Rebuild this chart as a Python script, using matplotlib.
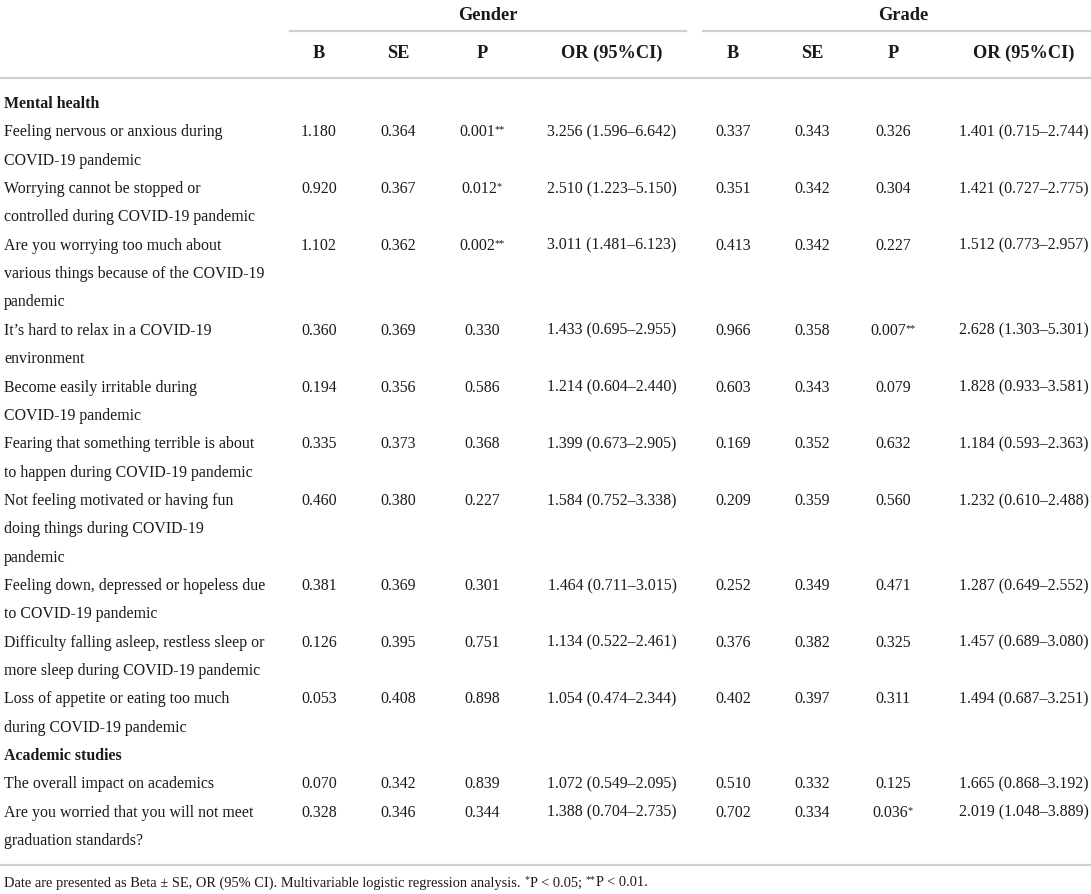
import matplotlib
matplotlib.use("Agg")
import matplotlib.pyplot as plt

plt.rcParams['font.family'] = ['Liberation Serif', 'DejaVu Serif']

groups = ["Gender", "Grade"]
col_heads = ["B", "SE", "P", "OR (95%CI)"]

sections = ["Mental health", "Academic studies"]

labels = [
    "Feeling nervous or anxious during\nCOVID-19 pandemic",
    "Worrying cannot be stopped or\ncontrolled during COVID-19 pandemic",
    "Are you worrying too much about\nvarious things because of the COVID-19\npandemic",
    "It\u2019s hard to relax in a COVID-19\nenvironment",
    "Become easily irritable during\nCOVID-19 pandemic",
    "Fearing that something terrible is about\nto happen during COVID-19 pandemic",
    "Not feeling motivated or having fun\ndoing things during COVID-19\npandemic",
    "Feeling down, depressed or hopeless due\nto COVID-19 pandemic",
    "Difficulty falling asleep, restless sleep or\nmore sleep during COVID-19 pandemic",
    "Loss of appetite or eating too much\nduring COVID-19 pandemic",
    "The overall impact on academics",
    "Are you worried that you will not meet\ngraduation standards?",
]
section_of = [0] * 10 + [1] * 2

gender_b = ["1.180", "0.920", "1.102", "0.360", "0.194", "0.335", "0.460", "0.381", "0.126", "0.053", "0.070", "0.328"]
gender_se = ["0.364", "0.367", "0.362", "0.369", "0.356", "0.373", "0.380", "0.369", "0.395", "0.408", "0.342", "0.346"]
gender_p = ["0.001", "0.012", "0.002", "0.330", "0.586", "0.368", "0.227", "0.301", "0.751", "0.898", "0.839", "0.344"]
gender_p_star = ["**", "*", "**", "", "", "", "", "", "", "", "", ""]
gender_or = ["3.256 (1.596\u20136.642)", "2.510 (1.223\u20135.150)", "3.011 (1.481\u20136.123)",
             "1.433 (0.695\u20132.955)", "1.214 (0.604\u20132.440)", "1.399 (0.673\u20132.905)",
             "1.584 (0.752\u20133.338)", "1.464 (0.711\u20133.015)", "1.134 (0.522\u20132.461)",
             "1.054 (0.474\u20132.344)", "1.072 (0.549\u20132.095)", "1.388 (0.704\u20132.735)"]

grade_b = ["0.337", "0.351", "0.413", "0.966", "0.603", "0.169", "0.209", "0.252", "0.376", "0.402", "0.510", "0.702"]
grade_se = ["0.343", "0.342", "0.342", "0.358", "0.343", "0.352", "0.359", "0.349", "0.382", "0.397", "0.332", "0.334"]
grade_p = ["0.326", "0.304", "0.227", "0.007", "0.079", "0.632", "0.560", "0.471", "0.325", "0.311", "0.125", "0.036"]
grade_p_star = ["", "", "", "**", "", "", "", "", "", "", "", "*"]
grade_or = ["1.401 (0.715\u20132.744)", "1.421 (0.727\u20132.775)", "1.512 (0.773\u20132.957)",
            "2.628 (1.303\u20135.301)", "1.828 (0.933\u20133.581)", "1.184 (0.593\u20132.363)",
            "1.232 (0.610\u20132.488)", "1.287 (0.649\u20132.552)", "1.457 (0.689\u20133.080)",
            "1.494 (0.687\u20133.251)", "1.665 (0.868\u20133.192)", "2.019 (1.048\u20133.889)"]

W, H = 1091, 894
fig = plt.figure(figsize=(W / 100, H / 100), dpi=100)
ax = fig.add_axes([0, 0, 1, 1])
ax.set_xlim(0, W)
ax.set_ylim(H, 0)
ax.axis('off')
rend = fig.canvas.get_renderer()

TXT = '#1a1a1a'
LINE = '#d0d0d0'
FS = 11.4
HFS = 13.2
NFS = 10.4   # footnote
BL = 5.0     # centre -> baseline offset, body text
HBL = 6.0    # same for header text

group_x = [488, 903]
group_span = [(290, 686), (703, 1091)]
col_x = [[319, 398, 482, 612], [733, 812, 893, 1024]]

# header
for g, name in enumerate(groups):
    ax.text(group_x[g], 14 + HBL, name, ha='center', va='baseline', fontsize=HFS,
            fontweight='bold', color=TXT)
    ax.plot(group_span[g], [31, 31], color=LINE, lw=1.6)
    for c, h in enumerate(col_heads):
        ax.text(col_x[g][c], 52 + HBL, h, ha='center', va='baseline', fontsize=HFS,
                fontweight='bold', color=TXT)
ax.plot([0, W], [78, 78], color=LINE, lw=1.6)


def width_of(s, fs):
    t = ax.text(0, 0, s, fontsize=fs)
    w = t.get_window_extent(rend).width
    t.remove()
    return w


def starred(x, y, num, star):
    if not star:
        ax.text(x, y + BL, num, ha='center', va='baseline', fontsize=FS, color=TXT)
        return
    wn = width_of(num, FS)
    ws = width_of(star, FS - 4)
    x0 = x - (wn + ws) / 2
    ax.text(x0, y + BL, num, ha='left', va='baseline', fontsize=FS, color=TXT)
    ax.text(x0 + wn - 0.5, y + BL - 4, star, ha='left', va='baseline', fontsize=FS - 4, color=TXT)


y0 = 103
step = 28.35
k = 0
prev_sec = -1
for i, lab in enumerate(labels):
    if section_of[i] != prev_sec:
        prev_sec = section_of[i]
        ax.text(4, y0 + k * step + BL, sections[prev_sec], ha='left', va='baseline',
                fontsize=FS, fontweight='bold', color=TXT)
        k += 1
    y = y0 + k * step
    lines = lab.split("\n")
    for j, ln in enumerate(lines):
        ax.text(4, y + j * step + BL, ln, ha='left', va='baseline', fontsize=FS, color=TXT)
    vals = [(gender_b[i], ""), (gender_se[i], ""), (gender_p[i], gender_p_star[i]), (gender_or[i], ""),
            (grade_b[i], ""), (grade_se[i], ""), (grade_p[i], grade_p_star[i]), (grade_or[i], "")]
    for c, (v, s) in enumerate(vals):
        starred(col_x[c // 4][c % 4], y, v, s)
    k += len(lines)

ax.plot([0, W], [865, 865], color=LINE, lw=1.6)

# footnote
pieces = [("Date are presented as Beta \u00b1 SE, OR (95% CI). Multivariable logistic regression analysis. ", False),
          ("*", True), ("P < 0.05; ", False), ("**", True), ("P < 0.01.", False)]
fx = 4
fy = 882 + 4.5
for s, sup in pieces:
    fs = NFS - 3.5 if sup else NFS
    ax.text(fx, fy - (4 if sup else 0), s, ha='left', va='baseline', fontsize=fs, color=TXT)
    fx += width_of(s, fs) + (1 if sup else 0)

fig.savefig("out.png", dpi=100)
